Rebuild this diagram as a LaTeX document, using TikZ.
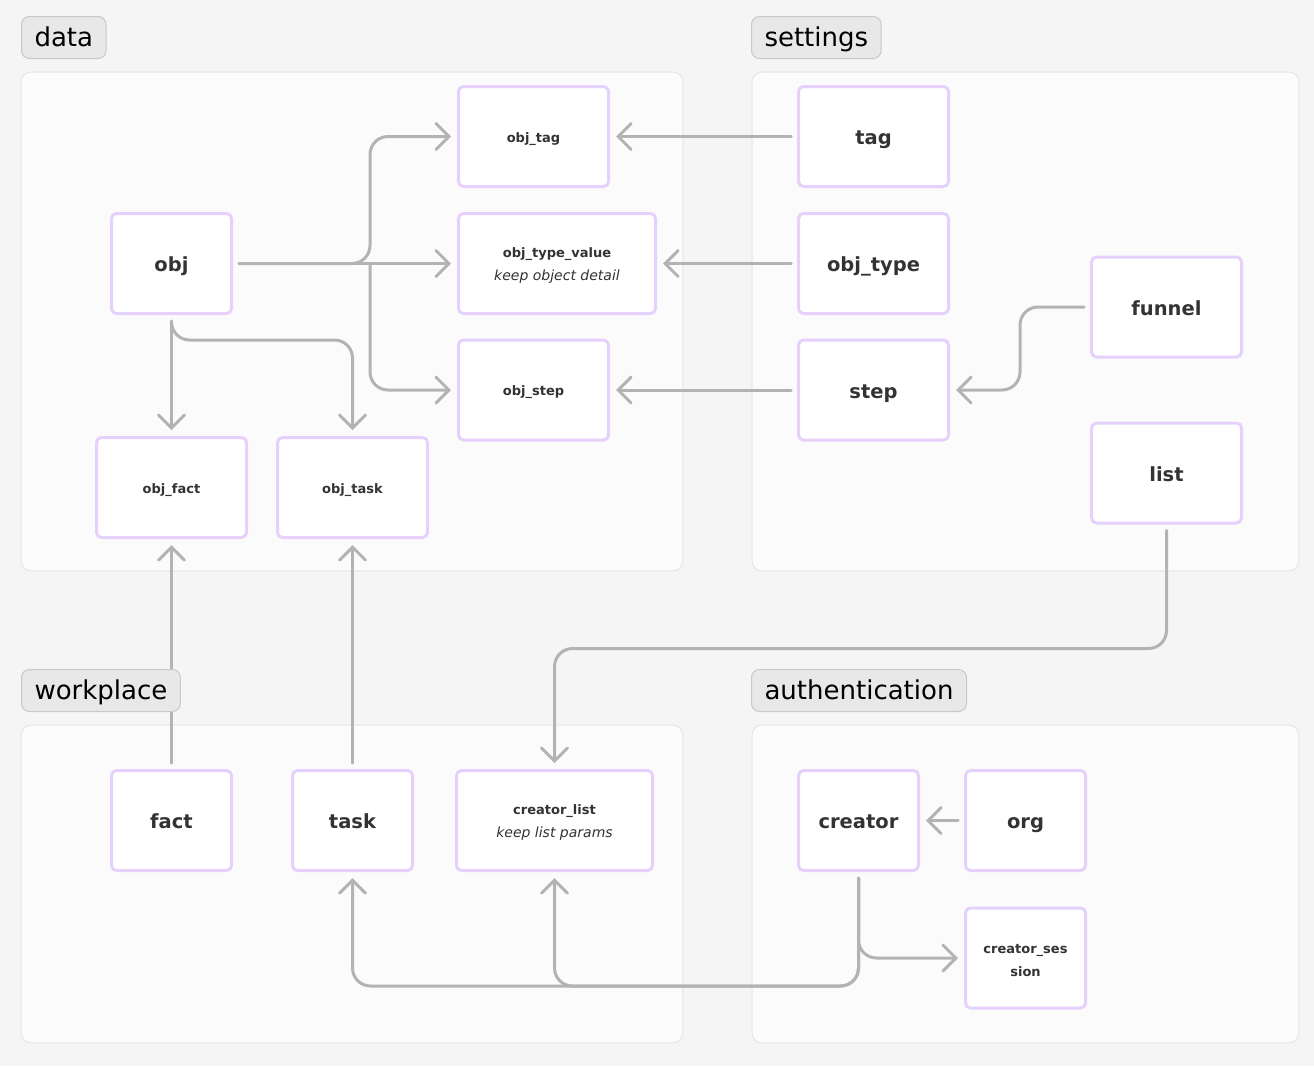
\documentclass[tikz,border=0pt]{standalone}
\usepackage{fontspec}
\setmainfont{DejaVu Sans}
\usetikzlibrary{arrows.meta}
\definecolor{bgcol}{HTML}{F5F5F5}
\definecolor{panelfill}{HTML}{FBFBFB}
\definecolor{panelline}{HTML}{E8E8E8}
\definecolor{hdrfill}{HTML}{E8E8E8}
\definecolor{hdrline}{HTML}{C8C8C8}
\definecolor{lav}{HTML}{E6D1FC}
\definecolor{boxtext}{HTML}{333333}
\definecolor{linkcol}{HTML}{B3B3B3}
\def\smallbold{\fontsize{13}{23}\selectfont\bfseries}
\def\bigbold{\fontsize{19.5}{23}\selectfont\bfseries}
\def\note#1{{\fontsize{14}{23}\selectfont\mdseries\itshape #1}}

\begin{document}
\begin{tikzpicture}[x=1pt, y=-1pt,
		tbl/.style={draw=lav, line width=3pt, rounded corners=5pt, fill=white, text=boxtext,
			minimum width=150pt, minimum height=100pt, align=center, font=\smallbold},
		oneline/.style={text height=12pt, text depth=1pt},
		tblbig/.style={tbl, minimum width=120pt, font=\bigbold, text height=18pt, text depth=1.5pt},
		panel/.style={draw=panelline, line width=1.2pt, fill=panelfill, rounded corners=10pt},
		grp/.style={draw=hdrline, line width=1pt, fill=hdrfill, rounded corners=8pt,
			minimum height=42pt, inner xsep=13pt, inner ysep=0pt, anchor=north west,
			text height=21pt, text depth=3pt,
			font=\fontsize{26}{26}\selectfont, text=black},
		link/.style={draw=linkcol, line width=3pt, rounded corners=18pt, line cap=round,
			-{Straight Barb[length=13pt, width=26pt, line cap=round]}}]
		%%%%% START %%%%%
		
		\fill[bgcol] (0, 0) rectangle (1314, 1066);
		\useasboundingbox (0, 0) rectangle (1314, 1066);
		
		% panels
		\draw[panel] (21, 72) rectangle (683, 571);
		\draw[panel] (752, 72) rectangle (1299, 571);
		\draw[panel] (21, 725) rectangle (683, 1043);
		\draw[panel] (752, 725) rectangle (1299, 1043);
		
		% data
		\node[tbl, oneline] (objtag) at (533.5, 136.5) {obj\_tag};
		\node[tbl, minimum width=197pt] (objtypevalue) at (557, 263.5) {\rule{0pt}{14pt}obj\_type\_value\\\note{keep object detail}};
		\node[tbl, oneline] (objstep) at (533.5, 390) {obj\_step};
		\node[tblbig] (obj) at (171.5, 263.5) {obj};
		\node[tbl, oneline] (objfact) at (171.5, 487.5) {obj\_fact};
		\node[tbl, oneline] (objtask) at (352.5, 487.5) {obj\_task};
		
		% settings
		\node[tblbig, minimum width=150pt] (tag) at (873.5, 136.5) {tag};
		\node[tblbig, minimum width=150pt] (objtype) at (873.5, 263.5) {obj\_type};
		\node[tblbig, minimum width=150pt] (step) at (873.5, 390) {step};
		\node[tblbig, minimum width=150pt] (funnel) at (1166.5, 307) {funnel};
		\node[tblbig, minimum width=150pt] (list) at (1166.5, 473) {list};
		
		% workplace
		\node[tblbig] (fact) at (171.5, 820.5) {fact};
		\node[tblbig] (task) at (352.5, 820.5) {task};
		\node[tbl, minimum width=196pt] (creatorlist) at (554.5, 820.5) {\rule{0pt}{14pt}creator\_list\\\note{keep list params}};
		
		% authentication
		\node[tblbig] (creator) at (858.5, 820.5) {creator};
		\node[tblbig] (org) at (1025.5, 820.5) {org};
		\node[tbl, minimum width=120pt] (creatorsession) at (1025.5, 958) {\rule{0pt}{14pt}creator\_ses\\sion};
		
		% links
		\coordinate (split) at (370, 263.5);
		\draw[link] ([xshift=6pt]obj.east) -- (split) |- ([xshift=-6pt]objtag.west);
		\draw[link] ([xshift=6pt]obj.east) -- ([xshift=-6pt]objtypevalue.west);
		\draw[link] (split) |- ([xshift=-6pt]objstep.west);
		\draw[link] ([yshift=-6pt]obj.south) -- ([yshift=6pt]objfact.north);
		\draw[link] ([yshift=-6pt]obj.south) -- ++(0, 19) -| ([yshift=6pt]objtask.north);
		
		\draw[link] ([xshift=-6pt]tag.west) -- ([xshift=6pt]objtag.east);
		\draw[link] ([xshift=-6pt]objtype.west) -- ([xshift=6pt]objtypevalue.east);
		\draw[link] ([xshift=-6pt]step.west) -- ([xshift=6pt]objstep.east);
		\draw[link] ([xshift=-6pt]funnel.west) -- ++(-64, 0) |- ([xshift=6pt]step.east);
		\draw[link] ([yshift=-6pt]list.south) -- ++(0, 118) -| ([yshift=6pt]creatorlist.north);
		
		\draw[link] ([yshift=6pt]fact.north) -- ([yshift=-6pt]objfact.south);
		\draw[link] ([yshift=6pt]task.north) -- ([yshift=-6pt]objtask.south);
		
		\draw[link] ([xshift=-6pt]org.west) -- ([xshift=6pt]creator.east);
		\draw[link] ([yshift=-6pt]creator.south) |- ([xshift=-6pt]creatorsession.west);
		\draw[link] ([yshift=-6pt]creator.south) -- ++(0, 108) -| ([yshift=-6pt]task.south);
		\draw[link] ([yshift=-6pt]creator.south) -- ++(0, 108) -| ([yshift=-6pt]creatorlist.south);
		
		% group labels
		\node[grp] (hdata) at (21, 16) {data};
		\node[grp] (hsettings) at (751, 16) {settings};
		\node[grp] (hworkplace) at (21, 669) {workplace};
		\node[grp] (hauth) at (751, 669) {authentication};
		
		%%%%% END %%%%%
\end{tikzpicture}
\end{document}
